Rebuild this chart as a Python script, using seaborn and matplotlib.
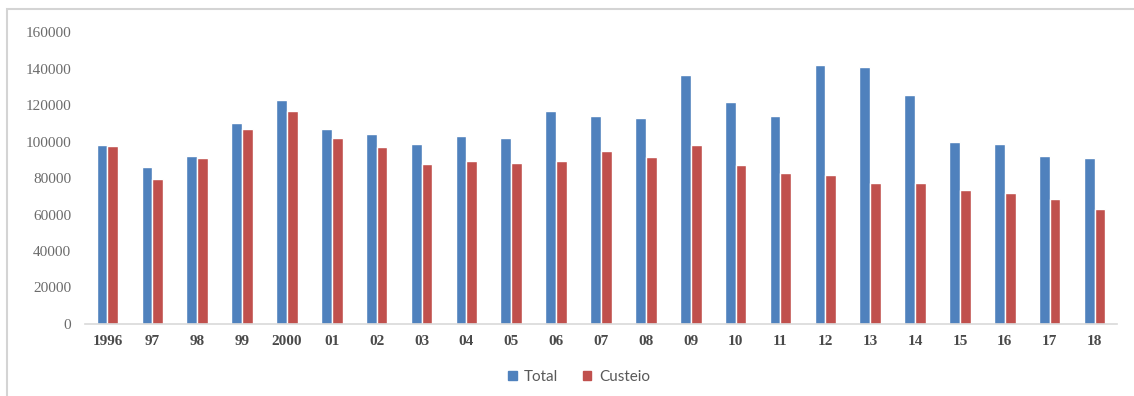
import matplotlib
matplotlib.use("Agg")
import matplotlib.pyplot as plt
from matplotlib.patches import Patch, Rectangle
import seaborn as sns
import pandas as pd

years = ["1996", "97", "98", "99", "2000", "01", "02", "03", "04", "05", "06", "07",
         "08", "09", "10", "11", "12", "13", "14", "15", "16", "17", "18"]
total = [98000, 86000, 92000, 110000, 122500, 107000, 104000, 98500, 102800, 102000,
         116500, 114000, 113000, 136500, 121500, 114000, 141800, 141000, 125500,
         99800, 98800, 92000, 91000]
custeio = [97800, 79500, 91000, 107000, 116800, 102000, 96800, 87500, 89300, 88000,
           89200, 95000, 91500, 98300, 87000, 82600, 81600, 77400, 77400, 73200,
           72000, 68500, 63000]
series = ["Total", "Custeio"]
colors = ["#4F81BD", "#C0504D"]
yticks = [0, 20000, 40000, 60000, 80000, 100000, 120000, 140000, 160000]

df = pd.DataFrame({
    "ano": years * 2,
    "valor": total + custeio,
    "serie": [series[0]] * len(years) + [series[1]] * len(years),
})

sns.set_style("white")
fig = plt.figure(figsize=(11.34, 3.96), dpi=100)
ax = fig.add_axes([85 / 1134, 1 - 324 / 396, (1117 - 85) / 1134, (324 - 32) / 396])

sns.barplot(data=df, x="ano", y="valor", hue="serie", order=years, hue_order=series,
            palette=colors, width=0.48, gap=0, saturation=1, ax=ax, legend=False,
            errorbar=None)

ax.set_xlim(-0.5, len(years) - 0.5)
ax.set_ylim(0, 160000)
ax.set_yticks(yticks)
ax.set_yticklabels([str(v) for v in yticks], family="Liberation Serif",
                   fontsize=11, color="#6b6b6b")
ax.set_xticks(range(len(years)))
ax.set_xticklabels(years, family="Liberation Serif", fontsize=11,
                   fontweight="bold", color="#4a4a4a")
ax.tick_params(axis="both", length=0)
ax.tick_params(axis="y", pad=10)
ax.tick_params(axis="x", pad=8)
ax.set_xlabel("")
ax.set_ylabel("")
for s in ["top", "right", "left"]:
    ax.spines[s].set_visible(False)
ax.spines["bottom"].set_color("#d9d9d9")
ax.spines["bottom"].set_linewidth(1.2)

handles = [Patch(facecolor=c, edgecolor=c, label=l) for c, l in zip(colors, series)]
leg = fig.legend(handles=handles, loc="center", bbox_to_anchor=(579 / 1134, 1 - 377 / 396),
                 ncol=2, frameon=False, handlelength=0.55, handleheight=0.55,
                 handletextpad=0.5, columnspacing=1.6,
                 prop={"family": "Lato", "size": 11})
for t in leg.get_texts():
    t.set_color("#595959")

frame = Rectangle((7 / 1134, -0.05), 1.1, 1 - 9 / 396 + 0.05, transform=fig.transFigure,
                  fill=False, edgecolor="#d4d4d4", linewidth=1.5, clip_on=False)
fig.patches.append(frame)

fig.savefig("out.png", dpi=100)
